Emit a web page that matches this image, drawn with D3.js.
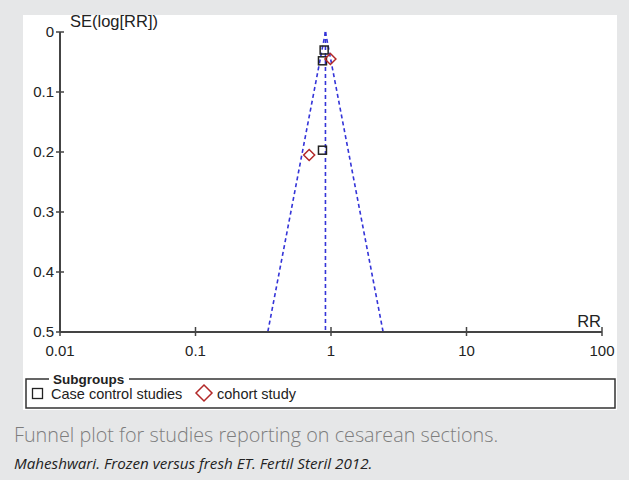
<!DOCTYPE html>
<html>
<head>
<meta charset="utf-8">
<script src="https://cdn.jsdelivr.net/npm/d3@7/dist/d3.min.js"></script>
<style>
  html, body { margin: 0; padding: 0; background: #e6e7e8; }
  svg { display: block; }
</style>
</head>
<body>
<svg id="chart" width="629" height="480"></svg>
<script>
// Funnel plot: relative risk vs. standard error of log(RR)
const pooledRR = 0.91;
const caseControlRR = [0.89, 0.865, 0.865];
const caseControlSE = [0.030, 0.048, 0.197];
const cohortRR = [0.99, 0.69];
const cohortSE = [0.045, 0.205];
const xTicks = [0.01, 0.1, 1, 10, 100];
const yTicks = [0, 0.1, 0.2, 0.3, 0.4, 0.5];
const seMax = 0.5;

const svg = d3.select("#chart");
const font = "'Liberation Sans', Arial, sans-serif";

// white panel
svg.append("rect").attr("x", 23).attr("y", 15).attr("width", 594).attr("height", 395).attr("fill", "#fff");

const x = d3.scaleLog().domain([0.01, 100]).range([60, 602]);
const y = d3.scaleLinear().domain([0, 0.5]).range([32, 332]);

const axisColor = "#444";

// funnel lines (95% limits) and centre line
const z = 1.96;
const funnel = svg.append("g").attr("fill", "none").attr("stroke", "#3434d8")
  .attr("stroke-width", 1.6).attr("stroke-dasharray", "4,3");
const lineGen = d3.line().x(d => x(d[0])).y(d => y(d[1]));
funnel.append("path").attr("d", lineGen([[pooledRR, 0], [pooledRR, seMax]]));
funnel.append("path").attr("d", lineGen([[pooledRR, 0], [pooledRR * Math.exp(-z * seMax), seMax]]));
funnel.append("path").attr("d", lineGen([[pooledRR, 0], [pooledRR * Math.exp(z * seMax), seMax]]));

// axes
const yAxis = svg.append("g").attr("font-family", font).attr("font-size", 15).attr("fill", "#222");
yAxis.append("line").attr("x1", 60).attr("x2", 60).attr("y1", y(0)).attr("y2", y(0.5))
  .attr("stroke", axisColor).attr("stroke-width", 2);
yTicks.forEach(t => {
  yAxis.append("line").attr("x1", 56).attr("x2", 64).attr("y1", y(t)).attr("y2", y(t))
    .attr("stroke", axisColor).attr("stroke-width", 1.5);
  yAxis.append("text").attr("x", 54).attr("y", y(t) + 5).attr("text-anchor", "end")
    .text(d3.format("")(t));
});
yAxis.append("text").attr("x", 70).attr("y", 27).attr("font-size", 16.5).text("SE(log[RR])");

const xAxis = svg.append("g").attr("font-family", font).attr("font-size", 15).attr("fill", "#222");
xAxis.append("line").attr("x1", x(0.01)).attr("x2", x(100)).attr("y1", y(0.5)).attr("y2", y(0.5))
  .attr("stroke", axisColor).attr("stroke-width", 2);
xTicks.forEach(t => {
  xAxis.append("line").attr("x1", x(t)).attr("x2", x(t)).attr("y1", y(0.5) - 5).attr("y2", y(0.5) + 4)
    .attr("stroke", axisColor).attr("stroke-width", 1.5);
  xAxis.append("text").attr("x", x(t)).attr("y", 356).attr("text-anchor", "middle").text(String(t));
});
xAxis.append("text").attr("x", 601).attr("y", 327).attr("text-anchor", "end").attr("font-size", 16.5).text("RR");

// study markers
svg.append("g").selectAll("rect").data(caseControlRR.map((r, i) => [r, caseControlSE[i]]))
  .join("rect")
  .attr("x", d => x(d[0]) - 4).attr("y", d => y(d[1]) - 4).attr("width", 8).attr("height", 8)
  .attr("fill", "none").attr("stroke", "#222").attr("stroke-width", 1.5);

const diamond = (cx, cy, r) => `M${cx},${cy - r}L${cx + r},${cy}L${cx},${cy + r}L${cx - r},${cy}Z`;
svg.append("g").selectAll("path").data(cohortRR.map((r, i) => [r, cohortSE[i]]))
  .join("path")
  .attr("d", d => diamond(x(d[0]), y(d[1]), 5.5))
  .attr("fill", "none").attr("stroke", "#b22828").attr("stroke-width", 1.5);

// legend
const lg = svg.append("g").attr("font-family", font).attr("font-size", 14.5).attr("fill", "#222");
lg.append("path").attr("d", "M49,379 H26 V408 H615 V379 H129")
  .attr("fill", "none").attr("stroke", "#333").attr("stroke-width", 1.5);
lg.append("text").attr("x", 53).attr("y", 384).attr("font-size", 13.5).attr("font-weight", "bold").text("Subgroups");
lg.append("rect").attr("x", 32.5).attr("y", 388.5).attr("width", 10).attr("height", 10)
  .attr("fill", "none").attr("stroke", "#222").attr("stroke-width", 1.3);
lg.append("text").attr("x", 51).attr("y", 399).text("Case control studies");
lg.append("path").attr("d", diamond(204, 393, 8)).attr("fill", "none").attr("stroke", "#b22828").attr("stroke-width", 1.5);
lg.append("text").attr("x", 217).attr("y", 399).text("cohort study");

// caption
svg.append("text").attr("x", 14).attr("y", 442).attr("font-family", "'Open Sans', sans-serif")
  .attr("font-size", 19.8).attr("font-weight", 300).attr("fill", "#7d7d7d")
  .text("Funnel plot for studies reporting on cesarean sections.");
svg.append("text").attr("x", 14).attr("y", 469).attr("font-family", "'Open Sans', sans-serif")
  .attr("font-size", 15.2).attr("font-style", "italic").attr("fill", "#222")
  .text("Maheshwari. Frozen versus fresh ET. Fertil Steril 2012.");
</script>
</body>
</html>
